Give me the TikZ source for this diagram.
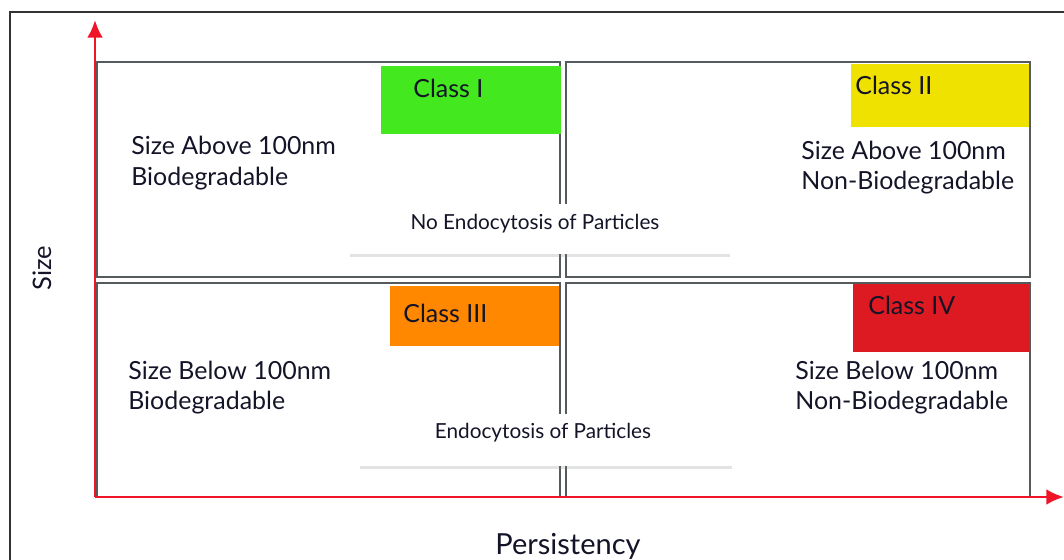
\documentclass[tikz,border=0pt]{standalone}
\usepackage{fontspec}
\setmainfont{Lato}
\usetikzlibrary{shadows,arrows.meta}
\definecolor{axisred}{RGB}{240, 20, 40}
\definecolor{framegrey}{RGB}{85, 90, 92}
\definecolor{inkblue}{RGB}{20, 20, 40}
\definecolor{classgreen}{RGB}{68, 232, 30}
\definecolor{classyellow}{RGB}{240, 226, 0}
\definecolor{classorange}{RGB}{255, 136, 0}
\definecolor{classred}{RGB}{221, 26, 34}
\tikzstyle{quad} = [
  draw=framegrey,
  line width=1.6pt,
]
\tikzstyle{label} = [
  text=inkblue,
  font=\fontsize{14.2}{16}\selectfont,
  anchor=west,
  inner sep=0pt,
]
\tikzstyle{effect} = [
  fill=white,
  text=inkblue,
  drop shadow={opacity=0.22, shadow xshift=0pt, shadow yshift=-1.5pt},
]

\begin{document}
\begin{tikzpicture}[x=0.02cm, y=-0.02cm]
            \useasboundingbox (0,0) rectangle (1064,560);

            % Outer frame
            \draw[line width=0.9pt, black!80] (10,560) -- (10,12) -- (1064,12);

            % Quadrants
            \draw[quad] (97,62) rectangle (560,277);
            \draw[quad] (566,62) rectangle (1030,277);
            \draw[quad] (97,283) rectangle (560,497);
            \draw[quad] (566,283) rectangle (1030,497);

            % Class boxes
            \fill[classgreen] (381,66) rectangle (561,134);
            \fill[classyellow] (851,64) rectangle (1029,127);
            \fill[classorange] (390,286) rectangle (559,346);
            \fill[classred] (853,284) rectangle (1029,352);

            \node[label] (classI) at (413,88) {Class I};
            \node[label] (classII) at (855,85) {Class II};
            \node[label] (classIII) at (403,313) {Class III};
            \node[label] (classIV) at (868,305) {Class IV};

            % Quadrant texts
            \node[label] (ab) at (131,145) {Size Above 100nm};
            \node[label] (abd) at (131,179) {Biodegradable};
            \node[label] (an) at (801,150) {Size Above 100nm};
            \node[label] (and) at (801,183) {Non-Biodegradable};
            \node[label] (bb) at (128,370) {Size Below 100nm};
            \node[label] (bbd) at (128,403) {Biodegradable};
            \node[label] (bn) at (795,370) {Size Below 100nm};
            \node[label] (bnd) at (795,403) {Non-Biodegradable};

            % Endocytosis boxes
            \node[effect, minimum width=7.6cm, minimum height=1cm] (noendo) at (540,229) {};
            \node[text=inkblue, font=\fontsize{11.8}{13}\selectfont] (noendotext) at (535,224) {No Endocytosis of Particles};
            \node[effect, minimum width=7.44cm, minimum height=1.04cm] (endo) at (546,440) {};
            \node[text=inkblue, font=\fontsize{11.8}{13}\selectfont] (endotext) at (543,433) {Endocytosis of Particles};

            % Axes
            \coordinate (origin) at (95,497);
            \coordinate (ytip) at (95,20);
            \coordinate (xtip) at (1064,497);
            \draw[axisred, line width=1.7pt, -{Latex[length=10pt, width=9pt]}] (origin) -- (ytip);
            \draw[axisred, line width=1.7pt, -{Latex[length=10pt, width=9pt]}] (origin) -- (xtip);

            % Axis labels
            \node[text=inkblue, rotate=90, font=\fontsize{14.5}{16}\selectfont] (size) at (42,268) {Size};
            \node[text=inkblue, font=\fontsize{16.5}{18}\selectfont] (persist) at (568,546) {Persistency};
          \end{tikzpicture}
\end{document}
